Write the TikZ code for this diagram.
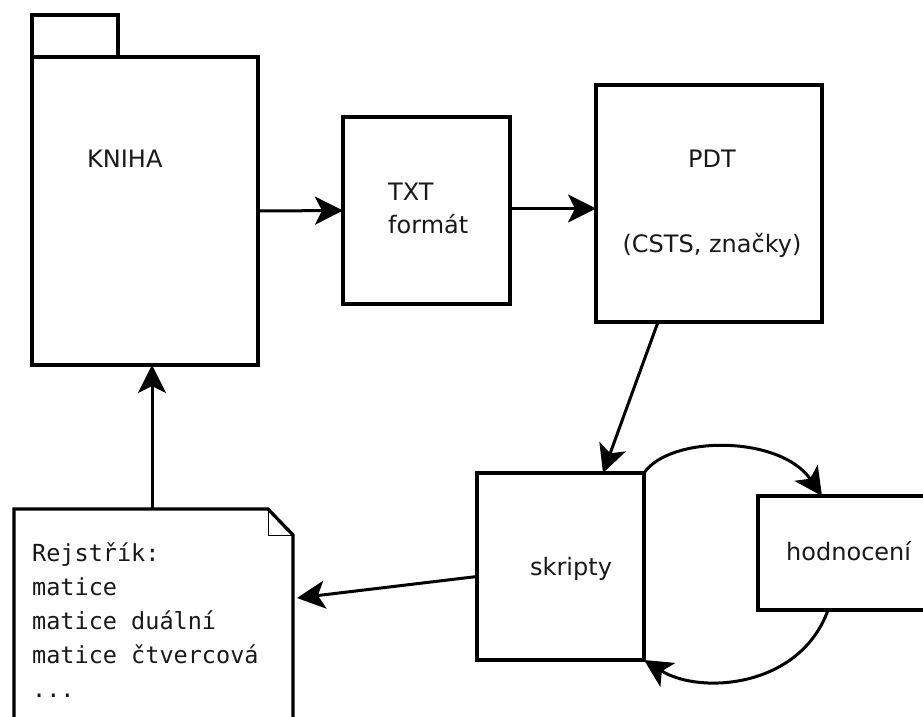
\documentclass[tikz,border=0pt]{standalone}
\usepackage{fontspec}
\setmainfont{DejaVu Sans}
\newfontfamily\notefont{DejaVu Sans Mono}
\usetikzlibrary{arrows.meta,calc}
\begin{document}
\begin{tikzpicture}[x=1pt,y=-1pt,
  box/.style={draw, line width=3.3pt, rectangle, inner sep=0pt, outer sep=0pt},
  area/.style={rectangle, inner sep=0pt, outer sep=0pt},
  lbl/.style={font=\fontsize{24}{33}\selectfont, inner sep=0pt, text=black!90},
  mono/.style={font=\notefont\fontsize{23.5}{34}\selectfont, inner sep=0pt, text=black!90, anchor=base west},
  conn/.style={line width=3pt, -{Stealth[length=28pt,width=28pt,inset=7pt]}}]
\useasboundingbox (0,0) rectangle (923,716);
\fill[white] (0,0) rectangle (923,716);
\clip (0,0) rectangle (923,716);

% book with tab
\node[box, minimum width=86pt, minimum height=42pt] (tab) at (75,36) {};
\node[box, minimum width=226pt, minimum height=308pt] (kniha) at (145,211) {};
\node[lbl, anchor=base west] (knihat) at (87,167) {KNIHA};

% TXT box
\node[box, minimum width=167pt, minimum height=187pt] (txt) at (426.5,210.5) {};
\node[lbl, anchor=base west] (txt1) at (388,200) {TXT};
\node[lbl, anchor=base west] (txt2) at (388,233) {formát};

% PDT box
\node[box, minimum width=226pt, minimum height=237pt] (pdt) at (709,203.5) {};
\node[lbl, anchor=base] (pdt1) at (712,167) {PDT};
\node[lbl, anchor=base] (pdt2) at (712,252) {(CSTS, značky)};

% skripty
\node[box, minimum width=167pt, minimum height=187pt] (skripty) at (560.5,566.5) {};
\node[lbl, anchor=base west] (skriptyt) at (530,575) {skripty};

% hodnoceni (cut at right edge)
\node[box, minimum width=177pt, minimum height=114pt] (hodn) at (846.5,553) {};
\node[lbl, anchor=base west] (hodnt) at (786,560) {hodnocení};

% note (index)
\node[area, minimum width=279pt, minimum height=217pt] (note) at (153.5,617.5) {};
\draw[line width=3.3pt, line join=miter]
  (note.south west) -- (note.north west) -- ($(note.north east)+(-25,0)$)
  -- ($(note.north east)+(0,26)$) -- (note.south east);
\draw[line width=1pt] ($(note.north east)+(-25,0)$) -- ($(note.north east)+(-25,26)$) -- ($(note.north east)+(0,26)$);
\node[mono] (n1) at (32,561) {Rejstřík:};
\node[mono] (n2) at (32,595) {matice};
\node[mono] (n3) at (32,629) {matice duální};
\node[mono] (n4) at (32,663) {matice čtvercová};
\node[mono] (n5) at (32,697) {...};

% connectors
\draw[conn] (kniha.east) -- (txt.west);
\draw[conn] ($(txt.east)+(0,-2)$) -- ($(txt.east -| pdt.west)+(0,-2)$);
\draw[conn] ($(pdt.south west)+(62,0)$) -- ($(skripty.north west)+(126,0)$);
\draw[conn] ($(skripty.west)+(0,10)$) -- ($(note.north east)+(4,89)$);
\draw[conn] ($(note.north west)+(138,0)$) -- ($(kniha.south west)+(120,0)$);
\draw[conn] (skripty.north east) .. controls (670,435) and (780,435) .. ($(hodn.north west)+(64,0)$);
\draw[conn] ($(hodn.south west)+(70,0)$) .. controls (800,688) and (700,695) .. (skripty.south east);
\end{tikzpicture}
\end{document}
